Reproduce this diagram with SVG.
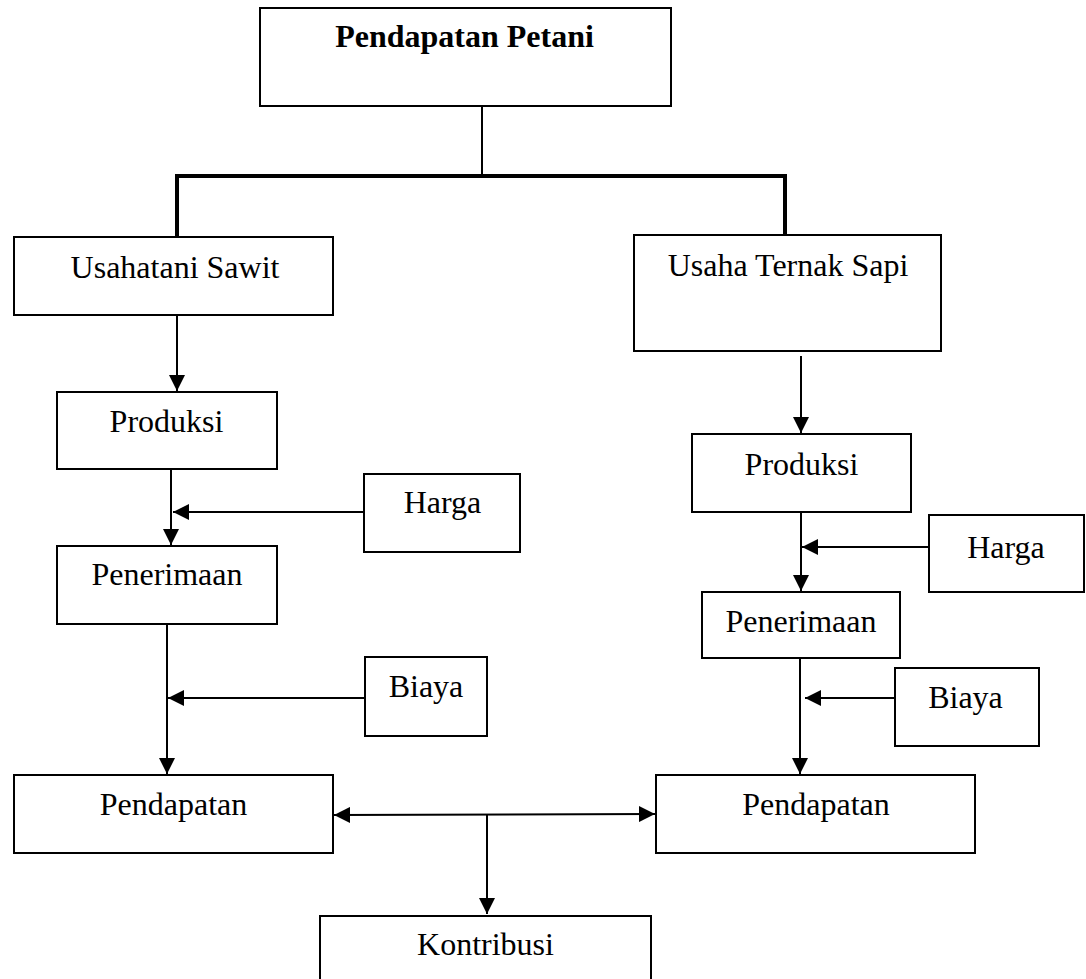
<svg xmlns="http://www.w3.org/2000/svg" width="1086" height="979" viewBox="0 0 1086 979">
<style>
.box{fill:#fff;stroke:#000;stroke-width:2}
.t{font-family:"Liberation Serif","Times New Roman",serif;font-size:32px;fill:#000}
.tb{font-family:"Liberation Serif","Times New Roman",serif;font-size:32px;font-weight:bold;fill:#000}
.c{fill:none;stroke:#000;stroke-width:2}
.thick{fill:none;stroke:#000;stroke-width:4}
</style>
<defs>
<marker id="ah" markerUnits="userSpaceOnUse" markerWidth="16" markerHeight="16" refX="14" refY="7" orient="auto-start-reverse" viewBox="0 0 14 14">
<path d="M0,0 L14,7 L0,14 z" fill="#000"/>
</marker>
</defs>
<g id="connectors">
<line class="c" x1="482" y1="106" x2="482" y2="176"/>
<polyline class="thick" points="177,236 177,176 785,176 785,234"/>
<line class="c" x1="177" y1="315" x2="177" y2="391" marker-end="url(#ah)"/>
<line class="c" x1="171" y1="469" x2="171" y2="545" marker-end="url(#ah)"/>
<line class="c" x1="364" y1="512" x2="173" y2="512" marker-end="url(#ah)"/>
<line class="c" x1="167" y1="620" x2="167" y2="774" marker-end="url(#ah)"/>
<line class="c" x1="364" y1="698" x2="168" y2="698" marker-end="url(#ah)"/>
<line class="c" x1="801" y1="356" x2="801" y2="433" marker-end="url(#ah)"/>
<line class="c" x1="801" y1="512" x2="801" y2="591" marker-end="url(#ah)"/>
<line class="c" x1="929" y1="547" x2="802" y2="547" marker-end="url(#ah)"/>
<line class="c" x1="800" y1="658" x2="800" y2="774" marker-end="url(#ah)"/>
<line class="c" x1="895" y1="698" x2="805" y2="698" marker-end="url(#ah)"/>
<line class="c" x1="334" y1="815" x2="655" y2="814" marker-start="url(#ah)" marker-end="url(#ah)"/>
<line class="c" x1="487" y1="814" x2="487" y2="914" marker-end="url(#ah)"/>
</g>
<g id="n-petani"><rect class="box" x="260" y="8" width="411" height="98"/><text class="tb" x="464.5" y="47" text-anchor="middle">Pendapatan Petani</text></g>
<g id="n-sawit"><rect class="box" x="14" y="237" width="319" height="78"/><text class="t" x="175" y="278" text-anchor="middle">Usahatani Sawit</text></g>
<g id="n-sapi"><rect class="box" x="634" y="235" width="307" height="116"/><text class="t" x="788" y="276" text-anchor="middle">Usaha Ternak Sapi</text></g>
<g id="n-produksi-l"><rect class="box" x="57" y="392" width="220" height="77"/><text class="t" x="166.5" y="432" text-anchor="middle">Produksi</text></g>
<g id="n-harga-l"><rect class="box" x="364" y="474" width="156" height="78"/><text class="t" x="442.5" y="513" text-anchor="middle">Harga</text></g>
<g id="n-penerimaan-l"><rect class="box" x="57" y="546" width="220" height="78"/><text class="t" x="167" y="585" text-anchor="middle">Penerimaan</text></g>
<g id="n-biaya-l"><rect class="box" x="365" y="657" width="122" height="79"/><text class="t" x="426" y="697" text-anchor="middle">Biaya</text></g>
<g id="n-pendapatan-l"><rect class="box" x="14" y="775" width="319" height="78"/><text class="t" x="173.5" y="815" text-anchor="middle">Pendapatan</text></g>
<g id="n-produksi-r"><rect class="box" x="692" y="434" width="219" height="78"/><text class="t" x="801.5" y="475" text-anchor="middle">Produksi</text></g>
<g id="n-harga-r"><rect class="box" x="929" y="515" width="155" height="77"/><text class="t" x="1006" y="558" text-anchor="middle">Harga</text></g>
<g id="n-penerimaan-r"><rect class="box" x="702" y="592" width="198" height="66"/><text class="t" x="801" y="632" text-anchor="middle">Penerimaan</text></g>
<g id="n-biaya-r"><rect class="box" x="895" y="668" width="144" height="78"/><text class="t" x="965.5" y="708" text-anchor="middle">Biaya</text></g>
<g id="n-pendapatan-r"><rect class="box" x="656" y="775" width="319" height="78"/><text class="t" x="816" y="815" text-anchor="middle">Pendapatan</text></g>
<g id="n-kontribusi"><rect class="box" x="320" y="916" width="331" height="70"/><text class="t" x="485.5" y="955" text-anchor="middle">Kontribusi</text></g>
</svg>
